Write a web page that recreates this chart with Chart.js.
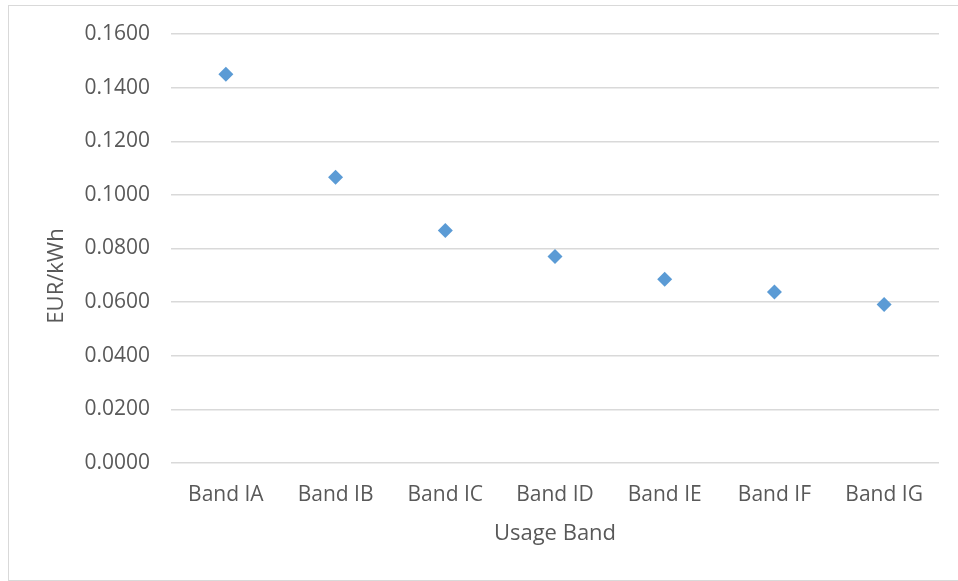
<!DOCTYPE html>
<html>
<head>
<meta charset="utf-8">
<script src="https://cdn.jsdelivr.net/npm/chart.js@4"></script>
<style>
  html, body { margin: 0; padding: 0; background: #fff; overflow: hidden; }
  #wrap { position: relative; width: 958px; height: 581px; }
  #grafico { position: absolute; left: 0; top: 0; }
  #marco {
    position: absolute; left: 8px; top: 5px; width: 960px; height: 574px;
    border: 1px solid #d9d9d9; pointer-events: none;
  }
</style>
</head>
<body>
<div id="wrap">
  <canvas id="grafico" width="958" height="581"></canvas>
  <div id="marco"></div>
</div>
<script>
// ===================== DATOS =====================
const categorias = ["Band IA", "Band IB", "Band IC", "Band ID", "Band IE", "Band IF", "Band IG"];
const precios = [0.1450, 0.1066, 0.0867, 0.0770, 0.0685, 0.0638, 0.0591];
const tituloX = "Usage Band";
const tituloY = "EUR/kWh";

const GRIS_TEXTO = "#595959";
const GRIS_LINEA = "#d9d9d9";
const FUENTE = "'Open Sans', sans-serif";

// titulo del eje Y dibujado a mano (va algo mas abajo que el centro del area)
const tituloEjeY = {
  id: "tituloEjeY",
  afterDraw(chart) {
    const ctx = chart.ctx;
    ctx.save();
    ctx.translate(57, 276);
    ctx.rotate(-Math.PI / 2);
    ctx.fillStyle = GRIS_TEXTO;
    ctx.font = "22px " + FUENTE;
    ctx.textAlign = "center";
    ctx.textBaseline = "middle";
    ctx.fillText(tituloY, 0, 0);
    ctx.restore();
  },
};

// ===================== CHART =====================
const ctx = document.getElementById("grafico").getContext("2d");
new Chart(ctx, {
  type: "line",
  data: {
    labels: categorias,
    datasets: [
      {
        label: tituloY,
        data: precios,
        showLine: false,
        pointStyle: "rectRot",
        pointRadius: 7.5,
        pointHoverRadius: 7.5,
        pointBackgroundColor: "#5b9bd5",
        pointBorderColor: "#5b9bd5",
        pointBorderWidth: 0,
      },
    ],
  },
  options: {
    responsive: false,
    animation: false,
    layout: { padding: { top: 34, right: 19, bottom: 0, left: 0 } },
    plugins: {
      legend: { display: false },
      tooltip: { enabled: false },
    },
    scales: {
      x: {
        offset: true,
        grid: { display: false, drawTicks: false },
        border: { display: false },
        ticks: {
          color: GRIS_TEXTO,
          font: { family: FUENTE, size: 21 },
          padding: 19,
          maxRotation: 0,
        },
        title: {
          display: true,
          text: tituloX,
          color: GRIS_TEXTO,
          font: { family: FUENTE, size: 22 },
          padding: { top: 0, bottom: 34 },
        },
        afterFit: (scale) => { scale.height = 118; },
      },
      y: {
        min: 0,
        max: 0.16,
        grid: { color: GRIS_LINEA, lineWidth: 1.5, drawTicks: false },
        border: { display: false },
        ticks: {
          stepSize: 0.02,
          color: GRIS_TEXTO,
          font: { family: FUENTE, size: 21 },
          padding: 21,
          callback: (val) => val.toFixed(4),
        },
        afterFit: (scale) => { scale.width = 171; },
      },
    },
  },
  plugins: [tituloEjeY],
});
</script>
</body>
</html>
